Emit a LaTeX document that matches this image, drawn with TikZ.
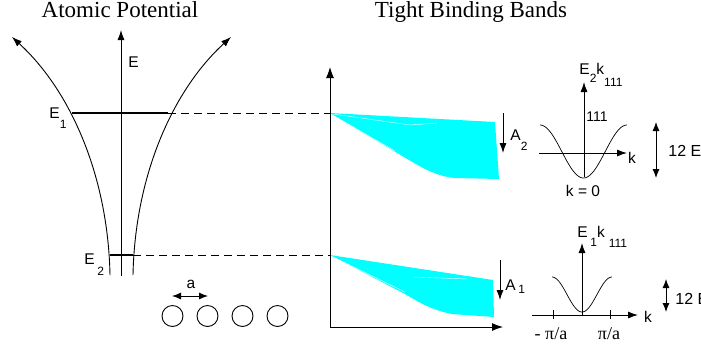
\documentclass[tikz,border=0pt]{standalone}
\usepackage{fontspec}
\setmainfont{Liberation Serif}
\setsansfont{Liberation Sans}
\usetikzlibrary{arrows.meta}
\definecolor{aqua}{RGB}{0,255,255}
\newcommand\lsub[2][9pt]{\raisebox{-#1}{\fontsize{12}{12}\selectfont #2}}
\begin{document}
\begin{tikzpicture}[x=1pt,y=-1pt,
  line width=0.9pt,
  tip/.style={-{Latex[length=11pt,width=8pt]}},
  stip/.style={-{Latex[length=10pt,width=7pt]}},
  dtip/.style={{Latex[length=9pt,width=7pt]}-{Latex[length=9pt,width=7pt]}},
  lbl/.style={font=\sffamily\fontsize{15.5}{15.5}\selectfont, inner sep=0pt},
  ttl/.style={font=\rmfamily\fontsize{23}{23}\selectfont, inner sep=0pt},
  pil/.style={font=\rmfamily\fontsize{18}{18}\selectfont, inner sep=0pt},
  lvl/.style={dash pattern=on 8pt off 5pt, line width=0.8pt},
  atom/.style={circle, draw, minimum size=21pt, inner sep=0pt},
  streak/.style={white, line width=0.4pt}
]
\useasboundingbox (0,0) rectangle (701,349);

% titles
\node[ttl, anchor=base] (t1) at (120,17) {Atomic Potential};
\node[ttl, anchor=base] (t2) at (471,17) {Tight Binding Bands};

% ---------- atomic potential ----------
\coordinate (Ebot) at (121,276);
\coordinate (Etop) at (121,30);
\draw[stip] (Ebot) -- (Etop);
\node[lbl, anchor=base west] (Elab) at (128,67) {E};

\coordinate (lb) at (110,275);
\coordinate (lt) at (12,37);
\coordinate (rb) at (133,275);
\coordinate (rt) at (231,37);
\draw[stip] (lb) .. controls (108,175) and (70,90) .. (lt);
\draw[stip] (rb) .. controls (135,175) and (173,90) .. (rt);

\coordinate (e1l) at (72,113);
\coordinate (e1r) at (168,113);
\coordinate (e2l) at (110,255);
\coordinate (e2r) at (133,255);
\draw[line width=2.6pt] (e1l) -- (e1r);
\draw[line width=1.8pt] (e2l) -- (e2r);

\node[lbl, anchor=base west] (E1) at (49,118) {E\lsub[10pt]{1}};
\node[lbl, anchor=base west] (E2) at (84,264) {E\,\lsub[11pt]{2}};

% lattice
\node[atom] (c1) at (172.5,316) {};
\node[atom] (c2) at (207.5,316) {};
\node[atom] (c3) at (242.5,316) {};
\node[atom] (c4) at (277.5,316) {};
\coordinate (al) at (172,296);
\coordinate (ar) at (208,296);
\draw[dtip] (al) -- (ar);
\node[lbl, anchor=base] (alab) at (191,288) {a};

% ---------- bands ----------
\coordinate (O) at (330,327);
\coordinate (Ytop) at (330,67);
\coordinate (Xend) at (503,327);
\coordinate (b1) at (330,113);
\coordinate (b2) at (330,255);

\fill[aqua] (b1) -- (495,122) -- (499,179) -- (455,178)
   .. controls (432,176) and (415,163) .. (397,153) -- cycle;
\draw[streak] (333,114) -- (410,125) -- (437,123);
\draw[streak] (334,116) -- (395,151);
\fill[aqua] (b2) -- (493,280) -- (494,317) -- (452,314)
   .. controls (432,310) and (420,303) .. (405,294) -- cycle;
\draw[streak] (333,257) -- (405,292);
\draw[streak] (413,277) -- (467,279);

\draw[tip] (O) -- (Ytop);
\draw[tip] (O) -- (Xend);

\draw[lvl] (e1r) -- (b1);
\draw[lvl] (e2r) -- (b2);

% A arrows
\coordinate (a2t) at (503,113);
\coordinate (a2b) at (503,153);
\draw[stip] (a2t) -- (a2b);
\node[lbl, anchor=base west] (A2) at (510,140) {A\lsub[10pt]{2}};
\coordinate (a1t) at (500,260);
\coordinate (a1b) at (500,300);
\draw[stip] (a1t) -- (a1b);
\node[lbl, anchor=base west] (A1) at (505,290) {A\,\lsub[3pt]{1}};

% ---------- upper inset ----------
\coordinate (u0) at (584,177);
\coordinate (uy) at (584,82);
\coordinate (ux0) at (539,153);
\coordinate (ux1) at (627,153);
\draw[stip] (u0) -- (uy);
\draw[stip] (ux0) -- (ux1);
\draw[line width=0.7pt, domain=540:627, samples=80, smooth, variable=\x]
  plot (\x, {151.5 - 26.5*cos((\x-540)*4.1379)});
\node[lbl, anchor=base west] (L2) at (579,74) {E\lsub[8pt]{2}k\lsub[12pt]{111}};
\node[lbl, font=\sffamily\fontsize{14}{14}\selectfont] (n111) at (597,117) {111};
\node[lbl] (ku) at (632,158) {k};
\node[lbl] (k0) at (583,191) {k = 0};
\coordinate (d1t) at (656,122);
\coordinate (d1b) at (656,178);
\draw[dtip] (d1t) -- (d1b);
\node[lbl, anchor=base west, font=\sffamily\fontsize{16}{16}\selectfont] (tw1) at (668,156) {12 E};

% ---------- lower inset ----------
\coordinate (l0) at (582,315);
\coordinate (ly) at (582,243);
\coordinate (lx0) at (532,315);
\coordinate (lx1) at (638,315);
\draw[stip] (l0) -- (ly);
\draw[stip] (lx0) -- (lx1);
\coordinate (tk1) at (553,310);
\coordinate (tk1b) at (553,319);
\coordinate (tk2) at (610,310);
\coordinate (tk2b) at (610,319);
\draw[line width=0.8pt] (tk1) -- (tk1b);
\draw[line width=0.8pt] (tk2) -- (tk2b);
\draw[line width=0.7pt, domain=552:612, samples=80, smooth, variable=\x]
  plot (\x, {294.5 - 17.5*cos((\x-552)*6)});
\node[lbl, anchor=base west] (L1) at (577,237) {E\,\lsub[9pt]{1}k\hspace{4pt}\lsub[10pt]{111}};
\node[lbl] (kl) at (648,317) {k};
\node[pil, anchor=base] (mpa) at (551,339) {- π/a};
\node[pil, anchor=base] (ppa) at (609,339) {π/a};
\coordinate (d2t) at (666,279);
\coordinate (d2b) at (666,312);
\draw[dtip] (d2t) -- (d2b);
\node[lbl, anchor=base west, font=\sffamily\fontsize{16}{16}\selectfont] (tw2) at (675,304) {12 E};
\end{tikzpicture}
\end{document}
